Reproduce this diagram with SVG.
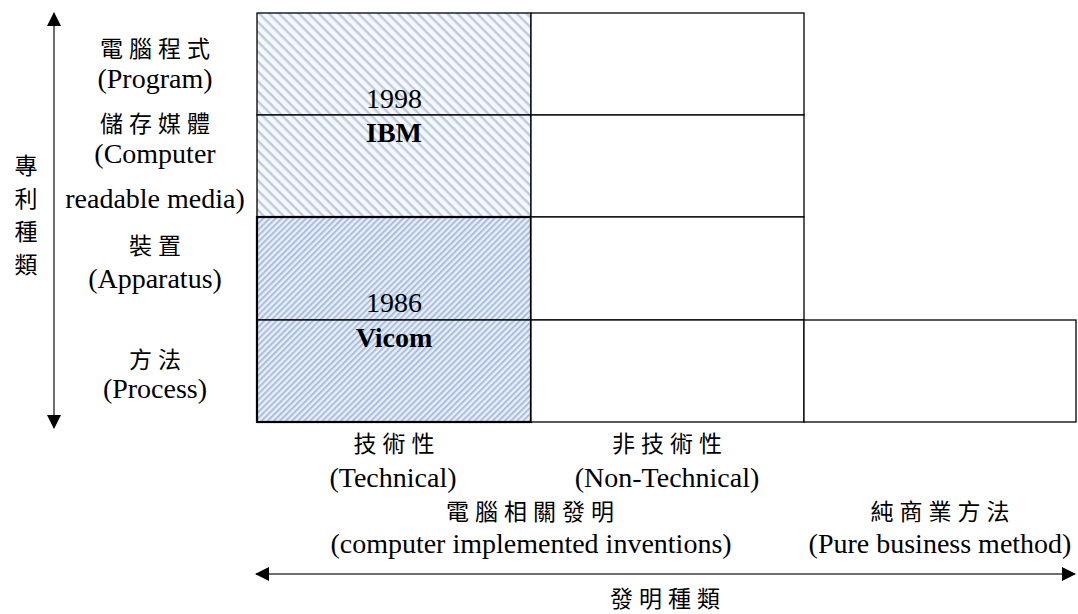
<svg xmlns="http://www.w3.org/2000/svg" width="1078" height="614" viewBox="0 0 1078 614">
  <style>
    .lat { font-family: "Liberation Serif", "Noto Sans CJK TC", serif; font-size: 28px; fill: #000; text-anchor: middle; }
    .bold { font-weight: bold; }
    .cjk { font-family: "Noto Sans CJK TC", "Liberation Serif", serif; font-size: 23px; fill: #000; text-anchor: middle; letter-spacing: 6px; }
    .vcjk { font-family: "Noto Sans CJK TC", "Liberation Serif", serif; font-size: 23px; fill: #000; text-anchor: middle; }
    .cell { fill: #fff; stroke: #000; stroke-width: 1.3; }
    .axis { stroke: #6e6e6e; stroke-width: 2; fill: none; }
  </style>
  <defs>
    <pattern id="hatchTop" patternUnits="userSpaceOnUse" width="7" height="7" patternTransform="rotate(45)">
      <rect width="7" height="7" fill="#f7f8fb"/>
      <rect width="7" height="2.4" fill="#bccbe2"/>
    </pattern>
    <pattern id="hatchBot" patternUnits="userSpaceOnUse" width="4.3" height="4.3" patternTransform="rotate(-45)">
      <rect width="4.3" height="4.3" fill="#e9eef7"/>
      <rect width="4.3" height="2" fill="#a9bfe0"/>
    </pattern>
    <marker id="head" viewBox="0 0 14 14" refX="13" refY="7" markerWidth="14" markerHeight="14" markerUnits="userSpaceOnUse" orient="auto-start-reverse">
      <path d="M0,0 L14,7 L0,14 Z" fill="#000"/>
    </marker>
  </defs>

  <g id="cell-program-technical">
    <rect x="257" y="13" width="274" height="102" fill="url(#hatchTop)" stroke="#000" stroke-width="1.3"/>
    <text class="lat" x="394" y="108">1998</text>
  </g>
  <g id="cell-media-technical">
    <rect x="257" y="115" width="274" height="102" fill="url(#hatchTop)" stroke="#000" stroke-width="1.3"/>
    <text class="lat bold" x="394" y="142">IBM</text>
  </g>
  <g id="cell-apparatus-technical">
    <rect x="257" y="217" width="274" height="103" fill="url(#hatchBot)" stroke="#000" stroke-width="1.3"/>
    <text class="lat" x="394" y="312">1986</text>
  </g>
  <g id="cell-process-technical">
    <rect x="257" y="320" width="274" height="102" fill="url(#hatchBot)" stroke="#000" stroke-width="1.3"/>
    <text class="lat bold" x="394" y="347">Vicom</text>
  </g>
  <rect x="257" y="217" width="274" height="205" fill="none" stroke="#000" stroke-width="2.2"/>

  <g id="cell-program-nontech"><rect class="cell" x="531" y="13" width="273" height="102"/></g>
  <g id="cell-media-nontech"><rect class="cell" x="531" y="115" width="273" height="102"/></g>
  <g id="cell-apparatus-nontech"><rect class="cell" x="531" y="217" width="273" height="103"/></g>
  <g id="cell-process-nontech"><rect class="cell" x="531" y="320" width="273" height="102"/></g>
  <g id="cell-process-business"><rect class="cell" x="804" y="320" width="272" height="102"/></g>

  <g id="row-labels">
    <text class="cjk" x="158" y="57">電腦程式</text>
    <text class="lat" x="155" y="88">(Program)</text>
    <text class="cjk" x="158" y="132">儲存媒體</text>
    <text class="lat" x="155" y="163">(Computer</text>
    <text class="lat" x="155" y="208">readable media)</text>
    <text class="cjk" x="158" y="254">裝置</text>
    <text class="lat" x="155" y="288">(Apparatus)</text>
    <text class="cjk" x="158" y="368">方法</text>
    <text class="lat" x="155" y="398">(Process)</text>
  </g>

  <g id="axis-label-patent-type">
    <text class="vcjk" x="26" y="174">專</text>
    <text class="vcjk" x="26" y="207">利</text>
    <text class="vcjk" x="26" y="240">種</text>
    <text class="vcjk" x="26" y="273">類</text>
  </g>

  <g id="column-labels">
    <text class="cjk" x="397" y="452">技術性</text>
    <text class="lat" x="393" y="487">(Technical)</text>
    <text class="cjk" x="670" y="452">非技術性</text>
    <text class="lat" x="667" y="487">(Non-Technical)</text>
    <text class="cjk" x="533" y="520">電腦相關發明</text>
    <text class="lat" x="531" y="553">(computer implemented inventions)</text>
    <text class="cjk" x="943" y="520">純商業方法</text>
    <text class="lat" x="940" y="553">(Pure business method)</text>
  </g>

  <g id="axis-label-invention-type">
    <text class="cjk" x="668" y="607">發明種類</text>
  </g>

  <g id="connectors">
    <line class="axis" x1="54" y1="13" x2="54" y2="428" marker-start="url(#head)" marker-end="url(#head)"/>
    <line class="axis" x1="256" y1="574" x2="1075" y2="574" marker-start="url(#head)" marker-end="url(#head)"/>
  </g>
</svg>
